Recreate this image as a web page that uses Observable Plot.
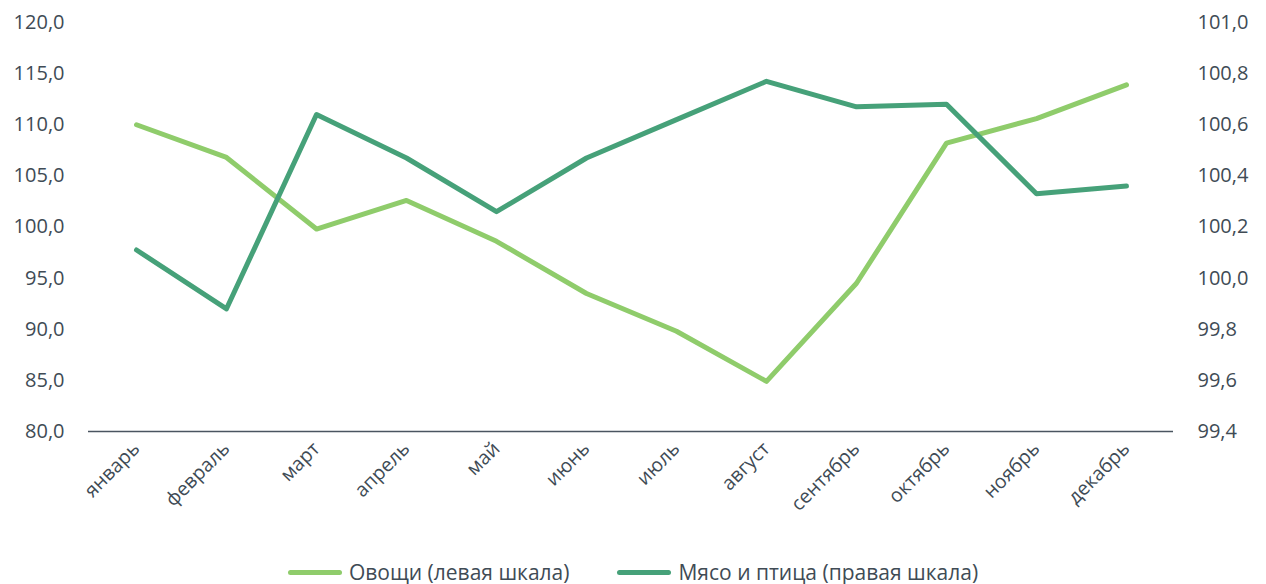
<!DOCTYPE html>
<html>
<head>
<meta charset="utf-8">
<script src="https://cdn.jsdelivr.net/npm/d3@7"></script>
<script src="https://cdn.jsdelivr.net/npm/@observablehq/plot@0.6"></script>
<style>
  html, body { margin: 0; padding: 0; background: #fff; }
  body { width: 1266px; height: 584px; overflow: hidden; font-family: "Open Sans", sans-serif; }
  #chart svg { display: block; }
  #legend { display: flex; justify-content: center; align-items: center; gap: 48px; font-size: 21px; line-height: 28px; color: #404b55; margin-top: 13px; }
  .item { display: flex; align-items: center; gap: 7px; }
  .sw { width: 54px; height: 5px; border-radius: 3px; }
</style>
</head>
<body>
<div id="chart"></div>
<div id="legend"></div>
<script>
const months = ["январь","февраль","март","апрель","май","июнь","июль","август","сентябрь","октябрь","ноябрь","декабрь"];
const vegetables = [110.0, 106.8, 99.8, 102.6, 98.6, 93.5, 89.8, 84.9, 94.5, 108.2, 110.6, 113.9];
const meat = [100.11, 99.88, 100.64, 100.47, 100.26, 100.47, 100.62, 100.77, 100.67, 100.68, 100.33, 100.36];
const leftTicks = [80, 85, 90, 95, 100, 105, 110, 115, 120];
const rightTicks = [99.4, 99.6, 99.8, 100.0, 100.2, 100.4, 100.6, 100.8, 101.0];
const seriesNames = ["Овощи (левая шкала)", "Мясо и птица (правая шкала)"];
const colors = ["#8fcc6b", "#46a179"];

// map right-scale values onto the left scale domain
const toLeft = v => 80 + (v - 99.4) * 25;

const vegData = months.map((m, i) => ({month: m, value: vegetables[i]}));
const meatData = months.map((m, i) => ({month: m, value: meat[i]}));
const fmt = v => v.toFixed(1).replace(".", ",");
const textColor = "#404b55";

const chart = Plot.plot({
  width: 1266,
  height: 545,
  marginTop: 22,
  marginBottom: 114,
  marginLeft: 88,
  marginRight: 93,
  style: {fontFamily: "Open Sans, sans-serif", fontSize: "20px", color: textColor, background: "#fff"},
  x: {type: "point", domain: months, padding: 0.5},
  y: {domain: [80, 120]},
  marks: [
    Plot.axisY({ticks: leftTicks, tickFormat: fmt, tickSize: 0, tickPadding: 24, label: null, anchor: "left", fontSize: 20}),
    Plot.axisY({ticks: rightTicks.map(toLeft), tickFormat: (d) => fmt(99.4 + (d - 80) / 25), tickSize: 0, tickPadding: 24, label: null, anchor: "right", fontSize: 20}),
    Plot.axisX({tickRotate: -45, tickSize: 0, tickPadding: 14, label: null, fontSize: 19.5}),
    Plot.ruleY([80], {stroke: "#4a5560", strokeWidth: 1.6}),
    Plot.lineY(vegData, {x: "month", y: "value", stroke: colors[0], strokeWidth: 5, strokeLinecap: "round", strokeLinejoin: "round"}),
    Plot.lineY(meatData, {x: "month", y: d => toLeft(d.value), stroke: colors[1], strokeWidth: 5, strokeLinecap: "round", strokeLinejoin: "round"})
  ]
});
document.getElementById("chart").appendChild(chart);

const legend = document.getElementById("legend");
seriesNames.forEach((name, i) => {
  const item = document.createElement("div");
  item.className = "item";
  const sw = document.createElement("div");
  sw.className = "sw";
  sw.style.background = colors[i];
  const t = document.createElement("span");
  t.textContent = name;
  item.appendChild(sw);
  item.appendChild(t);
  legend.appendChild(item);
});
</script>
</body>
</html>
